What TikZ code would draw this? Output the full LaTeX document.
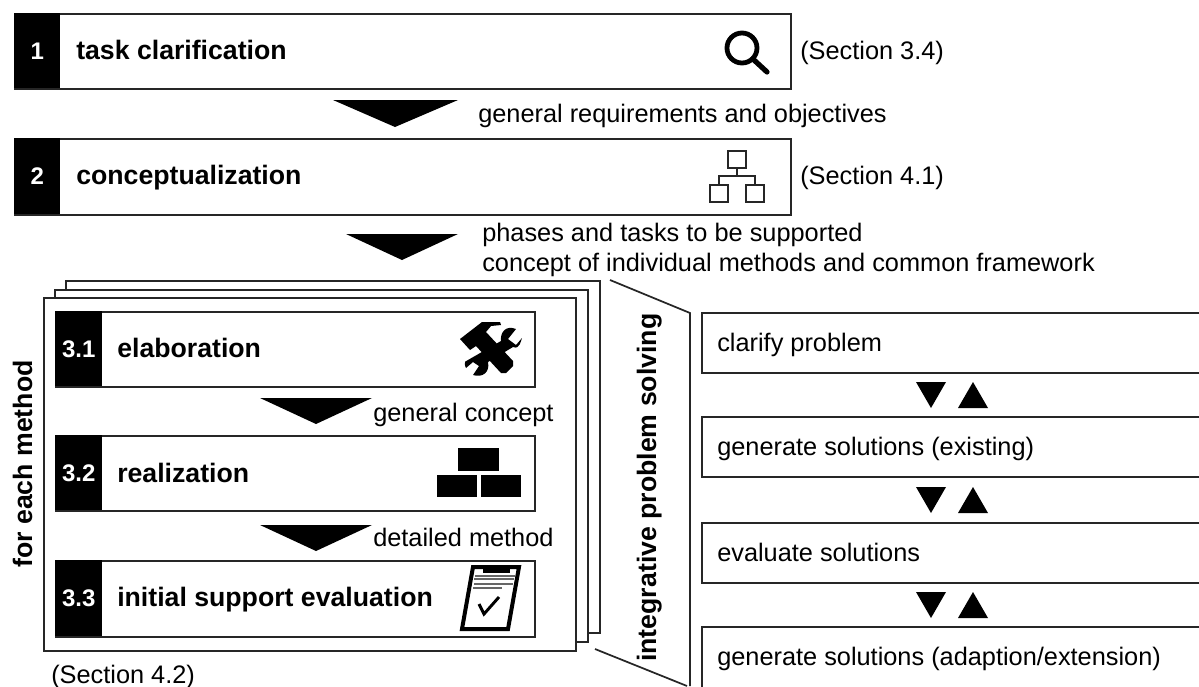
\documentclass[tikz,border=0pt]{standalone}
\usepackage{fontspec}
\setmainfont{Liberation Sans}
\tikzset{
  px/.style={x=0.75pt,y=-0.75pt},
  stagebox/.style={draw=black!85,line width=1.6pt,fill=white,rectangle,anchor=north west,inner sep=0pt},
  tab/.style={fill=black,rectangle,anchor=north west,inner sep=0pt,text=white,font=\fontsize{18}{18}\selectfont\bfseries},
  title/.style={anchor=base west,inner sep=0pt,font=\fontsize{20}{20}\selectfont\bfseries},
  note/.style={anchor=base west,inner sep=0pt,font=\fontsize{19}{19}\selectfont},
  flow/.style={fill=black,draw=none},
  iconline/.style={draw=black!85,line width=1.5pt,fill=white},
}
\begin{document}
\begin{tikzpicture}[px]
\useasboundingbox (0,0) rectangle (1199,686);
% stacked sheets
\node[stagebox,minimum width=534pt*0.75,minimum height=352pt*0.75] (sheetc) at (65,280) {};
\node[stagebox,minimum width=533pt*0.75,minimum height=352pt*0.75] (sheetb) at (54,289) {};
\node[stagebox,minimum width=532pt*0.75,minimum height=353pt*0.75] (sheeta) at (43,297) {};
% top boxes
\node[stagebox,minimum width=776pt*0.75,minimum height=75pt*0.75] (b1) at (14,13) {};
\node[tab,minimum width=46pt*0.75,minimum height=75pt*0.75] (t1) at (14,13) {1};
\node[stagebox,minimum width=776pt*0.75,minimum height=76pt*0.75] (b2) at (14,138) {};
\node[tab,minimum width=46pt*0.75,minimum height=76pt*0.75] (t2) at (14,138) {2};
\node[title] (l1) at (76,59) {task clarification};
\node[title] (l2) at (76,184) {conceptualization};
\node[note] (s1) at (800,59) {(Section 3.4)};
\node[note] (s2) at (800,184) {(Section 4.1)};
\node[note] (n1) at (478,122) {general requirements and objectives};
\node[note] (n2a) at (482,241) {phases and tasks to be supported};
\node[note] (n2b) at (482,271) {concept of individual methods and common framework};
% method boxes
\node[stagebox,minimum width=479pt*0.75,minimum height=75pt*0.75] (b31) at (55,311) {};
\node[tab,minimum width=47pt*0.75,minimum height=75pt*0.75] (t31) at (55,311) {3.1};
\node[stagebox,minimum width=479pt*0.75,minimum height=75pt*0.75] (b32) at (55,435) {};
\node[tab,minimum width=47pt*0.75,minimum height=75pt*0.75] (t32) at (55,435) {3.2};
\node[stagebox,minimum width=479pt*0.75,minimum height=76pt*0.75] (b33) at (55,560) {};
\node[tab,minimum width=47pt*0.75,minimum height=76pt*0.75] (t33) at (55,560) {3.3};
\node[title] (l31) at (117,357) {elaboration};
\node[title] (l32) at (117,482) {realization};
\node[title] (l33) at (117,606) {initial support evaluation};
\node[note] (c1) at (373,421) {general concept};
\node[note] (c2) at (373,546) {detailed method};
\node[note] (s3) at (51,683) {(Section 4.2)};
\node[title,rotate=90] (fe) at (32,568) {for each method};
\node[title,rotate=90] (ip) at (656,662) {integrative problem solving};
% big flow triangles
\fill[flow] (333,100) -- (458,100) -- (395,127) -- cycle;
\fill[flow] (346,234) -- (458,234) -- (402,260) -- cycle;
\fill[flow] (260,398) -- (372,398) -- (316,424) -- cycle;
\fill[flow] (260,525) -- (372,525) -- (316,551) -- cycle;
% bracket
\draw[draw=black!85,line width=1.3pt] (610,280) -- (690,313) -- (690,686);
\draw[draw=black!85,line width=1.3pt] (595,649) -- (687,686);
% right boxes
\draw[draw=black!85,line width=1.5pt] (1200,313) -- (702,313) -- (702,373) -- (1200,373);
\draw[draw=black!85,line width=1.5pt] (1200,417) -- (702,417) -- (702,477) -- (1200,477);
\draw[draw=black!85,line width=1.5pt] (1200,523) -- (702,523) -- (702,583) -- (1200,583);
\draw[draw=black!85,line width=1.5pt] (1200,627) -- (702,627) -- (702,687);
\node[note] (r1) at (717,351) {clarify problem};
\node[note] (r2) at (717,455) {generate solutions (existing)};
\node[note] (r3) at (717,561) {evaluate solutions};
\node[note] (r4) at (717,665) {generate solutions (adaption/extension)};
\foreach \y in {382,487,592}{
  \fill[flow] (916,\y) -- (946,\y) -- (931,\y+26) -- cycle;
  \fill[flow] (958,\y+26) -- (988,\y+26) -- (973,\y) -- cycle;
}
% magnifier
\draw[black,line width=3.6pt] (742,48) circle[radius=15];
\draw[black,line width=3.9pt,line cap=round] (754,60) -- (767,72);
% hierarchy
\draw[iconline] (728,151) rectangle (746,168);
\draw[iconline] (710,185) rectangle (728,202);
\draw[iconline] (746,185) rectangle (764,202);
\draw[draw=black!85,line width=1.5pt] (737,168) -- (737,176) (719,185) -- (719,176) -- (755,176) -- (755,185);
% tools
\fill[black] (460,339) -- (482,322) -- (500,322) -- (501,325) -- (491,326) -- (486,332) -- (513,361) -- (513,366) -- (506,373) -- (501,373) -- (476,346) -- (470,350) -- cycle;
\fill[black] (516,329) .. controls (506,325) and (500,332) .. (501,341) -- (468,360) .. controls (462,361) and (466,368) .. (466,368) -- (473,362) -- (479,366) -- (473,375) .. controls (483,378) and (490,372) .. (488,362) -- (513,347) .. controls (520,350) and (521,340) .. (522,338) -- (516,345) -- (508,339) -- cycle;
% bricks
\fill[black] (458,448) rectangle (499,471);
\fill[black] (437,475) rectangle (477,497);
\fill[black] (481,475) rectangle (521,497);
% clipboard
\draw[black,line width=3pt,fill=white] (473,567) -- (519,567) -- (508,629) -- (462,629) -- cycle;
\fill[black] (483,566) rectangle (510,573);
\draw[black!60,line width=0.8pt] (475,576) -- (515,576) (474,579) -- (514,579) (474,584) -- (513,584) (473,588) -- (502,588);
\draw[black,line width=2.2pt] (479,604) -- (484,614) -- (499,597);
\end{tikzpicture}
\end{document}
